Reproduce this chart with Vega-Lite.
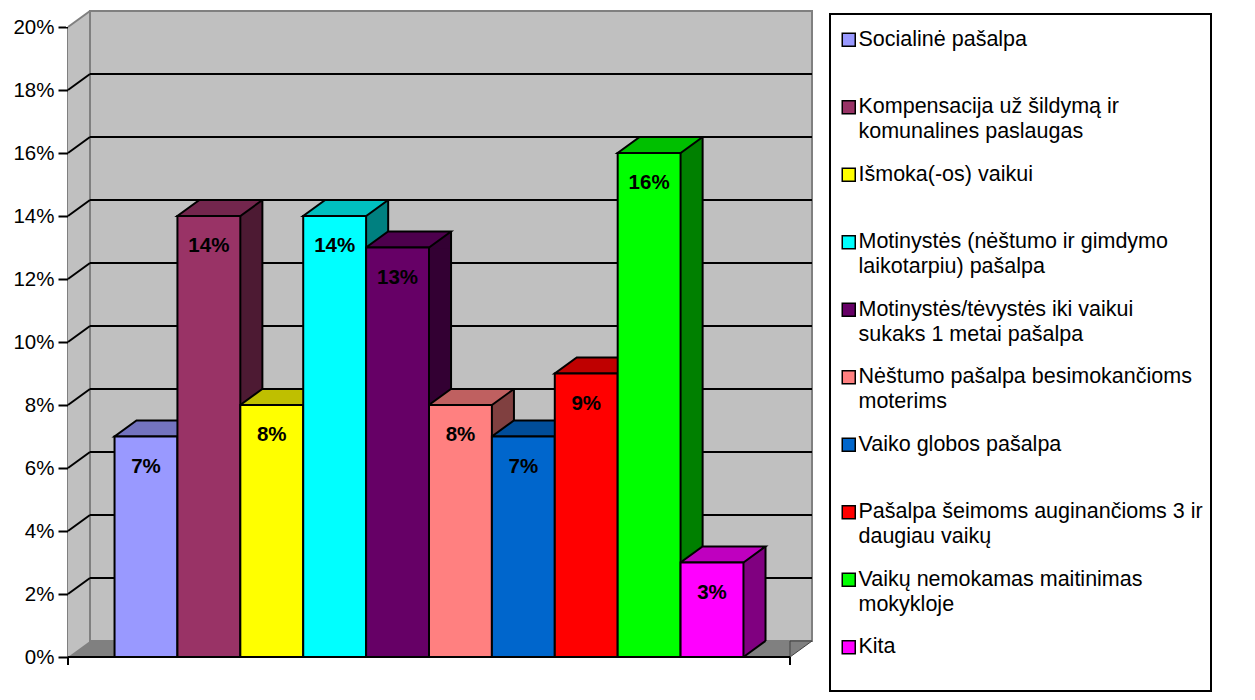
{
  "$schema": "https://vega.github.io/schema/vega-lite/v6.json",
  "width": 722,
  "height": 630,
  "autosize": {"type": "none"},
  "padding": {"left": 68, "top": 27, "right": 465, "bottom": 43},
  "background": "white",
  "config": {
    "font": "Liberation Sans",
    "view": {"stroke": null},
    "axisX": {"disable": true},
    "axisY": {
      "domainColor": "black", "domainWidth": 2,
      "tickColor": "black", "tickWidth": 2, "tickSize": 10,
      "labelFont": "Liberation Sans", "labelFontSize": 20.5, "labelColor": "black",
      "labelPadding": 4, "grid": false, "zindex": 1
    },
    "legend": {"strokeWidth": 2},
    "style": {"guide-label": {"lineHeight": 25}}
  },
  "datasets": {
    "ismokos": [
      {"kategorija": "Socialinė pašalpa", "dalis": 0.07},
      {"kategorija": "Kompensacija už šildymą ir komunalines paslaugas", "dalis": 0.14},
      {"kategorija": "Išmoka(-os) vaikui", "dalis": 0.08},
      {"kategorija": "Motinystės (nėštumo ir gimdymo laikotarpiu) pašalpa", "dalis": 0.14},
      {"kategorija": "Motinystės/tėvystės iki vaikui sukaks 1 metai pašalpa", "dalis": 0.13},
      {"kategorija": "Nėštumo pašalpa besimokančioms moterims", "dalis": 0.08},
      {"kategorija": "Vaiko globos pašalpa", "dalis": 0.07},
      {"kategorija": "Pašalpa šeimoms auginančioms 3 ir daugiau vaikų", "dalis": 0.09},
      {"kategorija": "Vaikų nemokamas maitinimas mokykloje", "dalis": 0.16},
      {"kategorija": "Kita", "dalis": 0.03}
    ],
    "lygiai": [
      {"lygis": 0.02}, {"lygis": 0.04}, {"lygis": 0.06}, {"lygis": 0.08}, {"lygis": 0.1},
      {"lygis": 0.12}, {"lygis": 0.14}, {"lygis": 0.16}, {"lygis": 0.18}
    ]
  },
  "resolve": {"scale": {"x": "independent"}},
  "layer": [
    {
      "data": {"values": [{}]},
      "layer": [
        {
          "mark": {"type": "rect", "fill": "#C0C0C0", "x2Offset": 22, "yOffset": -16},
          "encoding": {
            "x": {"datum": 0, "type": "quantitative", "scale": {"domain": [0, 1], "nice": false, "zero": false}, "axis": null},
            "x2": {"datum": 0},
            "y": {"datum": 0.2, "type": "quantitative", "title": null},
            "y2": {"datum": 0}
          }
        },
        {
          "mark": {"type": "point", "shape": "M0,0L22,-16L22,-18L-2,-18L-2,0Z", "size": 4, "filled": true, "fill": "white", "strokeWidth": 0, "opacity": 1},
          "encoding": {
            "x": {"datum": 0, "type": "quantitative", "axis": null},
            "y": {"datum": 0.2, "type": "quantitative", "title": null}
          }
        },
        {
          "mark": {"type": "rect", "fill": "#C0C0C0", "stroke": "#808080", "strokeWidth": 2, "xOffset": 22, "x2Offset": 22, "yOffset": -16, "y2Offset": -16},
          "encoding": {
            "x": {"datum": 0, "type": "quantitative", "axis": null},
            "x2": {"datum": 1},
            "y": {"datum": 0, "type": "quantitative", "title": null},
            "y2": {"datum": 0.2}
          }
        },
        {
          "mark": {"type": "point", "shape": "M0,0L22,-16", "size": 4, "filled": false, "stroke": "#808080", "strokeWidth": 2, "opacity": 1},
          "encoding": {
            "x": {"datum": 0, "type": "quantitative", "axis": null},
            "y": {"datum": 0.2, "type": "quantitative", "title": null}
          }
        },
        {
          "mark": {"type": "rect", "fill": "#808080", "xOffset": 22, "yOffset": -16},
          "encoding": {
            "x": {"datum": 0, "type": "quantitative", "axis": null},
            "x2": {"datum": 1},
            "y": {"datum": 0, "type": "quantitative", "title": null},
            "y2": {"datum": 0}
          }
        },
        {
          "mark": {"type": "point", "shape": "M0,0L22,-16L22,0Z", "size": 4, "filled": true, "fill": "#808080", "strokeWidth": 0, "opacity": 1},
          "encoding": {
            "x": {"datum": 0, "type": "quantitative", "axis": null},
            "y": {"datum": 0, "type": "quantitative", "title": null}
          }
        },
        {
          "mark": {"type": "point", "shape": "M0,0L0,-16L22,-16Z", "size": 4, "filled": true, "fill": "#808080", "stroke": "#404040", "strokeWidth": 1, "opacity": 1},
          "encoding": {
            "x": {"datum": 1, "type": "quantitative", "axis": null},
            "y": {"datum": 0, "type": "quantitative", "title": null}
          }
        },
        {
          "data": {"name": "lygiai"},
          "mark": {"type": "point", "shape": "M0,0L22,-16", "size": 4, "filled": false, "stroke": "black", "strokeWidth": 2, "opacity": 1},
          "encoding": {
            "x": {"datum": 0, "type": "quantitative", "axis": null},
            "y": {"field": "lygis", "type": "quantitative", "title": null}
          }
        },
        {
          "data": {"name": "lygiai"},
          "mark": {"type": "rule", "stroke": "black", "strokeWidth": 2, "xOffset": 22, "x2Offset": 22, "yOffset": -16},
          "encoding": {
            "x": {"datum": 0, "type": "quantitative", "axis": null},
            "x2": {"datum": 1},
            "y": {"field": "lygis", "type": "quantitative", "title": null}
          }
        },
        {
          "mark": {"type": "rule", "stroke": "black", "strokeWidth": 2},
          "encoding": {
            "x": {"datum": 0, "type": "quantitative", "axis": null},
            "x2": {"datum": 1},
            "y": {"datum": 0, "type": "quantitative", "title": null}
          }
        },
        {
          "mark": {"type": "rule", "stroke": "black", "strokeWidth": 2, "y2Offset": 8},
          "encoding": {
            "x": {"datum": 0, "type": "quantitative", "axis": null},
            "y": {"datum": 0, "type": "quantitative", "title": null},
            "y2": {"datum": 0}
          }
        },
        {
          "mark": {"type": "rule", "stroke": "black", "strokeWidth": 2, "y2Offset": 8},
          "encoding": {
            "x": {"datum": 1, "type": "quantitative", "axis": null},
            "y": {"datum": 0, "type": "quantitative", "title": null},
            "y2": {"datum": 0}
          }
        }
      ]
    },
    {
      "data": {"name": "ismokos"},
      "resolve": {"scale": {"fill": "independent"}},
      "layer": [
        {
          "layer": [
            {
              "mark": {"type": "bar", "width": 22, "xOffset": 42.5, "y2Offset": -16, "stroke": null},
              "encoding": {
                "x": {"field": "kategorija", "type": "nominal", "sort": null, "scale": {"paddingInner": 0, "paddingOuter": 0.74}, "axis": null},
                "y": {"field": "dalis", "type": "quantitative", "stack": null, "title": null},
                "y2": {"datum": 0},
                "fill": {"field": "kategorija", "type": "nominal", "legend": null,
                  "scale": {"domain": ["Socialinė pašalpa", "Kompensacija už šildymą ir komunalines paslaugas", "Išmoka(-os) vaikui", "Motinystės (nėštumo ir gimdymo laikotarpiu) pašalpa", "Motinystės/tėvystės iki vaikui sukaks 1 metai pašalpa", "Nėštumo pašalpa besimokančioms moterims", "Vaiko globos pašalpa", "Pašalpa šeimoms auginančioms 3 ir daugiau vaikų", "Vaikų nemokamas maitinimas mokykloje", "Kita"],
                    "range": ["#4D4D80", "#4D1A33", "#808000", "#008080", "#330033", "#804040", "#003366", "#800000", "#008000", "#800080"]}}
              }
            },
            {
              "mark": {"type": "point", "shape": "M31.5,0L53.5,-16L53.5,1L31.5,1Z", "size": 4, "filled": true, "strokeWidth": 0, "opacity": 1},
              "encoding": {
                "x": {"field": "kategorija", "type": "nominal", "sort": null, "axis": null},
                "y": {"field": "dalis", "type": "quantitative", "title": null},
                "fill": {"field": "kategorija", "type": "nominal", "legend": null}
              }
            },
            {
              "mark": {"type": "point", "shape": "M31.5,-17L31.5,0L53.5,-16L53.5,-17Z", "size": 4, "filled": true, "strokeWidth": 0, "opacity": 1},
              "encoding": {
                "x": {"field": "kategorija", "type": "nominal", "sort": null, "axis": null},
                "y": {"datum": 0, "type": "quantitative", "title": null},
                "fill": {"field": "kategorija", "type": "nominal", "legend": null}
              }
            },
            {
              "mark": {"type": "rule", "stroke": "black", "strokeWidth": 2, "xOffset": 53.5, "yOffset": -16, "y2Offset": -16},
              "encoding": {
                "x": {"field": "kategorija", "type": "nominal", "sort": null, "axis": null},
                "y": {"field": "dalis", "type": "quantitative", "title": null},
                "y2": {"datum": 0}
              }
            },
            {
              "mark": {"type": "point", "shape": "M31.5,0L53.5,-16", "size": 4, "filled": false, "stroke": "black", "strokeWidth": 2, "opacity": 1},
              "encoding": {
                "x": {"field": "kategorija", "type": "nominal", "sort": null, "axis": null},
                "y": {"datum": 0, "type": "quantitative", "title": null}
              }
            }
          ]
        },
        {
          "mark": {"type": "point", "shape": "M-31.5,0L31.5,0L53.5,-16L-9.5,-16Z", "size": 4, "filled": true, "stroke": "black", "strokeWidth": 2, "strokeJoin": "miter", "opacity": 1},
          "encoding": {
            "x": {"field": "kategorija", "type": "nominal", "sort": null, "axis": null},
            "y": {"field": "dalis", "type": "quantitative", "title": null},
            "fill": {"field": "kategorija", "type": "nominal", "legend": null,
              "scale": {"domain": ["Socialinė pašalpa", "Kompensacija už šildymą ir komunalines paslaugas", "Išmoka(-os) vaikui", "Motinystės (nėštumo ir gimdymo laikotarpiu) pašalpa", "Motinystės/tėvystės iki vaikui sukaks 1 metai pašalpa", "Nėštumo pašalpa besimokančioms moterims", "Vaiko globos pašalpa", "Pašalpa šeimoms auginančioms 3 ir daugiau vaikų", "Vaikų nemokamas maitinimas mokykloje", "Kita"],
                "range": ["#7373BF", "#73264D", "#BFBF00", "#00BFBF", "#4D004D", "#BF6060", "#004D99", "#BF0000", "#00BF00", "#BF00BF"]}}
          }
        },
        {
          "mark": {"type": "bar", "stroke": "black", "strokeWidth": 2},
          "encoding": {
            "x": {"field": "kategorija", "type": "nominal", "sort": null, "axis": null},
            "y": {"field": "dalis", "type": "quantitative", "stack": null, "title": null,
              "scale": {"domain": [0, 0.2], "nice": false},
              "axis": {"values": [0, 0.02, 0.04, 0.06, 0.08, 0.1, 0.12, 0.14, 0.16, 0.18, 0.2], "format": ".0%", "title": null}},
            "color": {"field": "kategorija", "type": "nominal",
              "scale": {"domain": ["Socialinė pašalpa", "Kompensacija už šildymą ir komunalines paslaugas", "Išmoka(-os) vaikui", "Motinystės (nėštumo ir gimdymo laikotarpiu) pašalpa", "Motinystės/tėvystės iki vaikui sukaks 1 metai pašalpa", "Nėštumo pašalpa besimokančioms moterims", "Vaiko globos pašalpa", "Pašalpa šeimoms auginančioms 3 ir daugiau vaikų", "Vaikų nemokamas maitinimas mokykloje", "Kita"],
                "range": ["#9999FF", "#993366", "#FFFF00", "#00FFFF", "#660066", "#FF8080", "#0066CC", "#FF0000", "#00FF00", "#FF00FF"]},
              "legend": {
                "orient": "none", "legendX": 762, "legendY": -13, "title": " ", "titleFontSize": 1, "titlePadding": 6,
                "symbolType": "square", "symbolSize": 169, "symbolStrokeColor": "black", "symbolStrokeWidth": 1.5,
                "labelFont": "Liberation Sans", "labelFontSize": 21.5, "labelColor": "black", "labelLimit": 600, "labelOffset": -1,
                "labelExpr": "length(datum.label) > 34 ? [substring(datum.label, 0, lastindexof(substring(datum.label, 0, 34), ' ')), substring(datum.label, lastindexof(substring(datum.label, 0, 34), ' ') + 1)] : [datum.label, '']",
                "rowPadding": 19.5, "padding": 8, "fillColor": "white", "strokeColor": "black"
              }}
          }
        },
        {
          "mark": {"type": "text", "font": "Liberation Sans", "fontSize": 20.5, "fontWeight": "bold", "color": "black", "baseline": "middle", "dy": 30},
          "encoding": {
            "x": {"field": "kategorija", "type": "nominal", "sort": null, "axis": null},
            "y": {"field": "dalis", "type": "quantitative", "title": null},
            "text": {"field": "dalis", "type": "quantitative", "format": ".0%"}
          }
        }
      ]
    }
  ]
}
